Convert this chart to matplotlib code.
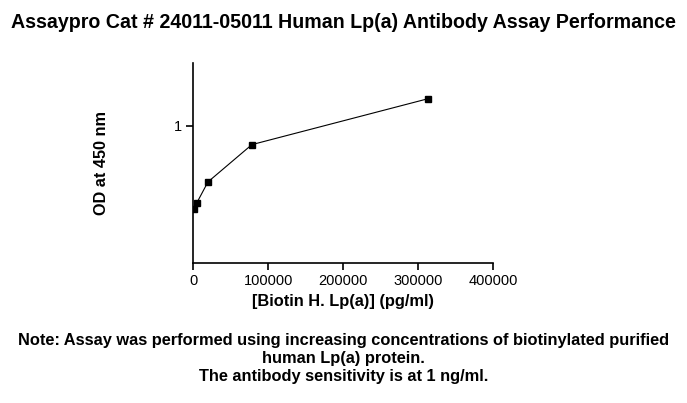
import matplotlib
matplotlib.use("Agg")
import matplotlib.pyplot as plt
from matplotlib.ticker import FixedLocator, NullLocator, FixedFormatter

plt.rcParams['font.family'] = ['Liberation Sans', 'DejaVu Sans']

# biotinylated Lp(a) concentration (pg/ml) vs OD
conc = [1220.7, 4882.8, 19531.25, 78125, 312500]
od = [0.40, 0.428, 0.538, 0.813, 1.35]

xticks = [0, 100000, 200000, 300000, 400000]
xticklabels = ['0', '100000', '200000', '300000', '400000']

note_lines = ['Note: Assay was performed using increasing concentrations of biotinylated purified',
              'human Lp(a) protein.',
              'The antibody sensitivity is at 1 ng/ml.']

W, H = 687, 403
fig = plt.figure(figsize=(W / 100, H / 100), dpi=100)
ax = fig.add_axes([193.3 / W, 1 - 262.7 / H, 300 / W, 199.4 / H])

ax.plot(conc, od, color='black', lw=0.8, marker='s', ms=4.5, mfc='black', mec='black')

ax.set_yscale('log')
ax.set_ylim(0.22, 2.0)
ax.set_xlim(0, 400000)
ax.yaxis.set_major_locator(FixedLocator([1]))
ax.yaxis.set_major_formatter(FixedFormatter(['1']))
ax.yaxis.set_minor_locator(NullLocator())
ax.set_xticks(xticks)
ax.set_xticklabels(xticklabels)

for s in ['top', 'right']:
    ax.spines[s].set_visible(False)
for s in ['left', 'bottom']:
    ax.spines[s].set_linewidth(1.2)
ax.tick_params(direction='out', length=5, width=1.2, labelsize=10.5, pad=3)

ax.set_xlabel('[Biotin H. Lp(a)] (pg/ml)', fontsize=11.8, fontweight='bold', labelpad=4.5)
ax.set_ylabel('OD at 450 nm', fontsize=11.7, fontweight='bold', labelpad=47)

fig.text(0.5, 1 - 22 / H, 'Assaypro Cat # 24011-05011 Human Lp(a) Antibody Assay Performance',
         ha='center', va='center', fontsize=14.1, fontweight='bold')
for i, line in enumerate(note_lines):
    fig.text(0.5, 1 - (341 + 18 * i) / H, line,
             ha='center', va='center', fontsize=11.8, fontweight='bold')

fig.savefig('out.png', dpi=100)
